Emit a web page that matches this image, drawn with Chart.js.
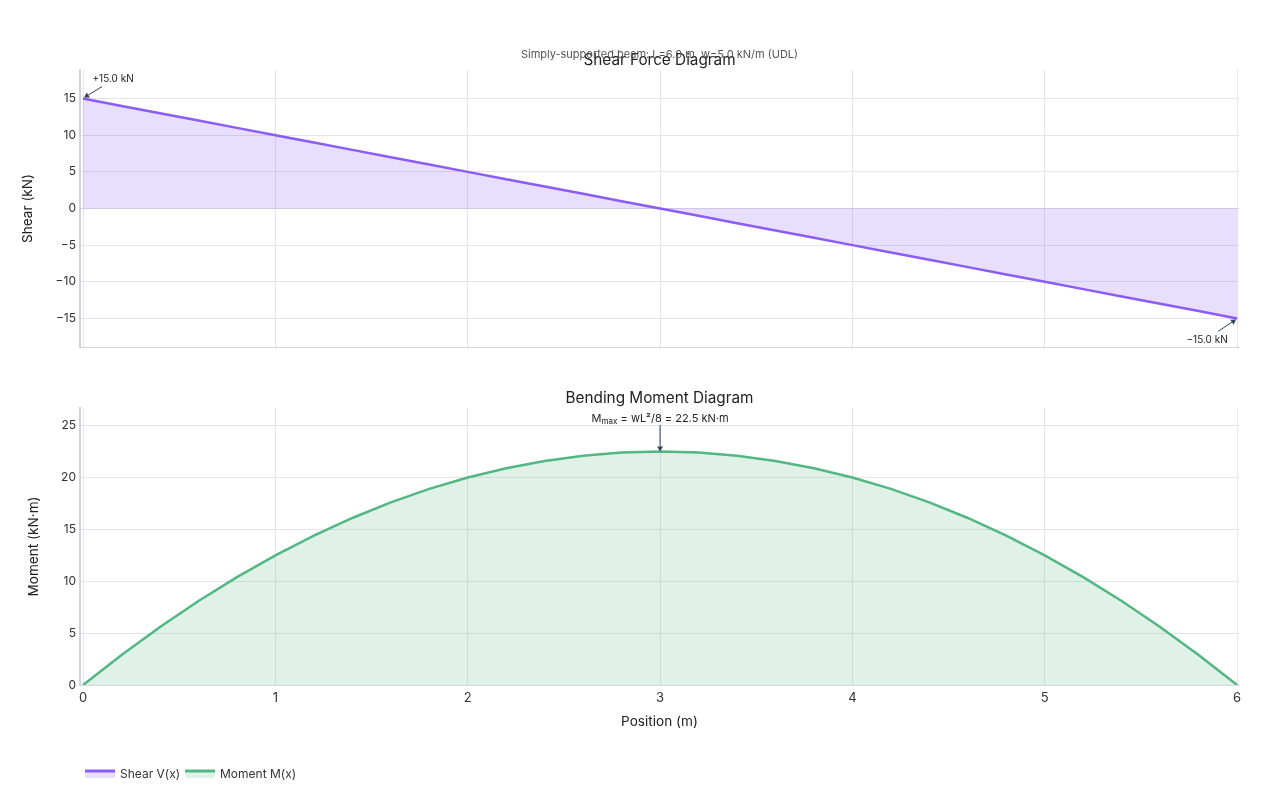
<!DOCTYPE html>
<html>
<head>
<meta charset="utf-8">
<script src="https://cdn.jsdelivr.net/npm/chart.js@4.4.1/dist/chart.umd.min.js"></script>
<style>
  body { margin: 0; background: #fff; font-family: Inter, sans-serif; }
  #wrap { position: relative; width: 1280px; height: 800px; }
  canvas { position: absolute; left: 0; }
  #shearChart { top: 0; }
  #momentChart { top: 360px; }
</style>
</head>
<body>
<div id="wrap">
  <canvas id="shearChart" width="1280" height="360"></canvas>
  <canvas id="momentChart" width="1280" height="440"></canvas>
</div>
<script>
// beam: L = 6.0 m, w = 5.0 kN/m
const positions = [0, 0.2, 0.4, 0.6, 0.8, 1.0, 1.2, 1.4, 1.6, 1.8, 2.0, 2.2, 2.4, 2.6, 2.8, 3.0,
    3.2, 3.4, 3.6, 3.8, 4.0, 4.2, 4.4, 4.6, 4.8, 5.0, 5.2, 5.4, 5.6, 5.8, 6.0];
const shearValues = [15, 14, 13, 12, 11, 10, 9, 8, 7, 6, 5, 4, 3, 2, 1, 0,
    -1, -2, -3, -4, -5, -6, -7, -8, -9, -10, -11, -12, -13, -14, -15];
const momentValues = [0, 2.9, 5.6, 8.1, 10.4, 12.5, 14.4, 16.1, 17.6, 18.9, 20.0, 20.9, 21.6, 22.1, 22.4, 22.5,
    22.4, 22.1, 21.6, 20.9, 20.0, 18.9, 17.6, 16.1, 14.4, 12.5, 10.4, 8.1, 5.6, 2.9, 0];
const xTicks = [0, 1, 2, 3, 4, 5, 6];
const shearTicks = [-15, -10, -5, 0, 5, 10, 15];
const momentTicks = [0, 5, 10, 15, 20, 25];

const FONT = 'Inter, "Noto Sans", sans-serif';
const GRID = '#e4e4e9';
const SHEAR = '#8b5cf6';
const MOMENT = '#52b782';
const ARROW = '#34405a';

const toPoints = (ys) => positions.map((x, i) => ({ x: x, y: ys[i] }));
const minus = (v) => String(v).replace('-', '\u2212');

function drawArrow(ctx, x0, y0, x1, y1) {
    const a = Math.atan2(y1 - y0, x1 - x0);
    const s = 5;
    ctx.save();
    ctx.strokeStyle = ARROW;
    ctx.fillStyle = ARROW;
    ctx.lineWidth = 1;
    ctx.beginPath();
    ctx.moveTo(x0, y0);
    ctx.lineTo(x1 - Math.cos(a) * s, y1 - Math.sin(a) * s);
    ctx.stroke();
    ctx.beginPath();
    ctx.moveTo(x1, y1);
    ctx.lineTo(x1 - s * Math.cos(a) + 3 * Math.sin(a), y1 - s * Math.sin(a) - 3 * Math.cos(a));
    ctx.lineTo(x1 - s * Math.cos(a) - 3 * Math.sin(a), y1 - s * Math.sin(a) + 3 * Math.cos(a));
    ctx.closePath();
    ctx.fill();
    ctx.restore();
}

function xAxis(showTicks) {
    return {
        type: 'linear',
        min: -0.016,
        max: 6.01,
        afterBuildTicks: (s) => { s.ticks = xTicks.map(v => ({ value: v })); },
        ticks: {
            display: showTicks,
            padding: 5,
            color: '#333',
            font: { family: FONT, size: 13 }
        },
        grid: { color: GRID, drawTicks: false },
        border: { color: '#d3d6da', width: 1 },
        afterFit: (s) => { s.height = showTicks ? 50 : 13; },
        title: showTicks ? {
            display: true,
            text: 'Position (m)',
            color: '#222',
            font: { family: FONT, size: 13.6 },
            padding: { top: 0, bottom: 5 }
        } : { display: false }
    };
}

function yAxis(min, max, tickList, label, titlePad, zeroColor) {
    return {
        min: min,
        max: max,
        afterBuildTicks: (s) => { s.ticks = tickList.map(v => ({ value: v })); },
        ticks: {
            padding: 4,
            color: '#333',
            font: { family: FONT, size: 12 },
            callback: (v) => minus(v)
        },
        grid: {
            drawTicks: false,
            color: (c) => (c.tick && c.tick.value === 0 ? zeroColor : GRID)
        },
        border: { color: '#d2d2da', width: 2 },
        afterFit: (s) => { s.width = 80; },
        title: {
            display: true,
            text: label,
            color: '#222',
            font: { family: FONT, size: 13.6 },
            padding: { top: titlePad, bottom: 0 }
        }
    };
}

const shearNotes = {
    id: 'shearNotes',
    afterDraw(chart) {
        const { ctx, scales: { x, y } } = chart;
        const cx = (chart.chartArea.left + chart.chartArea.right) / 2;
        ctx.save();
        ctx.textAlign = 'center';
        ctx.textBaseline = 'middle';
        ctx.fillStyle = '#222';
        ctx.font = '15.3px ' + FONT;
        ctx.fillText('Shear Force Diagram', cx, 60);
        ctx.fillStyle = '#555';
        ctx.font = '11px ' + FONT;
        ctx.fillText('Simply-supported beam: L=6.0 m, w=5.0 kN/m (UDL)', cx, 54.5);

        // end values
        const x0 = x.getPixelForValue(positions[0]);
        const y0 = y.getPixelForValue(shearValues[0]);
        const xn = x.getPixelForValue(positions[positions.length - 1]);
        const yn = y.getPixelForValue(shearValues[shearValues.length - 1]);
        ctx.fillStyle = '#222';
        ctx.font = '10px ' + FONT;
        ctx.fillText('+15.0 kN', x0 + 30, y0 - 19.5);
        ctx.fillText('\u221215.0 kN', xn - 30, yn + 21.5);
        ctx.restore();
        drawArrow(ctx, x0 + 19, y0 - 12, x0 + 1, y0 - 1);
        drawArrow(ctx, xn - 19, yn + 13, xn - 1, yn + 1);
    }
};

const momentNotes = {
    id: 'momentNotes',
    afterDraw(chart) {
        const { ctx, scales: { x, y } } = chart;
        const cx = (chart.chartArea.left + chart.chartArea.right) / 2;
        ctx.save();
        ctx.textBaseline = 'middle';
        ctx.textAlign = 'center';
        ctx.fillStyle = '#222';
        ctx.font = '15.3px ' + FONT;
        ctx.fillText('Bending Moment Diagram', cx, 38);

        // M_max label
        const peak = momentValues.indexOf(Math.max(...momentValues));
        const px = x.getPixelForValue(positions[peak]);
        const py = y.getPixelForValue(momentValues[peak]);
        const big = '11px ' + FONT, small = '8px ' + FONT;
        const rest = ' = wL\u00b2/8 = 22.5 kN\u00b7m';
        ctx.font = big;
        const wM = ctx.measureText('M').width, wR = ctx.measureText(rest).width;
        ctx.font = small;
        const wS = ctx.measureText('max').width;
        let tx = px - (wM + wS + wR) / 2;
        ctx.textAlign = 'left';
        ctx.font = big;
        ctx.fillText('M', tx, 58.5);
        ctx.font = small;
        ctx.fillText('max', tx + wM, 61.5);
        ctx.font = big;
        ctx.fillText(rest, tx + wM + wS, 58.5);
        ctx.restore();
        drawArrow(ctx, px, 65, px, py);

        // legend
        const ly = 413;
        const items = [
            { label: 'Shear V(x)', line: SHEAR, fill: 'rgba(139, 92, 246, 0.2)', x: 85 },
            { label: 'Moment M(x)', line: MOMENT, fill: 'rgba(82, 183, 130, 0.18)', x: 185 }
        ];
        ctx.save();
        items.forEach(it => {
            ctx.fillStyle = it.fill;
            ctx.fillRect(it.x, ly - 1, 30, 6);
            ctx.strokeStyle = it.line;
            ctx.lineWidth = 3;
            ctx.beginPath();
            ctx.moveTo(it.x, ly - 2);
            ctx.lineTo(it.x + 30, ly - 2);
            ctx.stroke();
            ctx.fillStyle = '#333';
            ctx.font = '12px ' + FONT;
            ctx.textAlign = 'left';
            ctx.textBaseline = 'middle';
            ctx.fillText(it.label, it.x + 35, ly + 1);
        });
        ctx.restore();
    }
};

new Chart(document.getElementById('shearChart'), {
    type: 'line',
    data: {
        datasets: [{
            label: 'Shear V(x)',
            data: toPoints(shearValues),
            borderColor: SHEAR,
            backgroundColor: 'rgba(139, 92, 246, 0.2)',
            borderWidth: 2.5,
            fill: 'origin',
            pointRadius: 0,
            tension: 0
        }]
    },
    options: {
        responsive: false,
        animation: false,
        layout: { padding: { top: 70, right: 41, left: 0, bottom: 0 } },
        plugins: { legend: { display: false }, tooltip: { enabled: false } },
        scales: {
            x: xAxis(false),
            y: yAxis(-18.9, 18.9, shearTicks, 'Shear (kN)', 20, '#d6d3e4')
        }
    },
    plugins: [shearNotes]
});

new Chart(document.getElementById('momentChart'), {
    type: 'line',
    data: {
        datasets: [{
            label: 'Moment M(x)',
            data: toPoints(momentValues),
            borderColor: MOMENT,
            backgroundColor: 'rgba(82, 183, 130, 0.18)',
            borderWidth: 2.5,
            fill: 'origin',
            pointRadius: 0,
            tension: 0
        }]
    },
    options: {
        responsive: false,
        animation: false,
        layout: { padding: { top: 48, right: 41, left: 0, bottom: 65 } },
        plugins: { legend: { display: false }, tooltip: { enabled: false } },
        scales: {
            x: xAxis(true),
            y: yAxis(0, 26.7, momentTicks, 'Moment (kN\u00b7m)', 26, '#cfd6d6')
        }
    },
    plugins: [momentNotes]
});
</script>
</body>
</html>
